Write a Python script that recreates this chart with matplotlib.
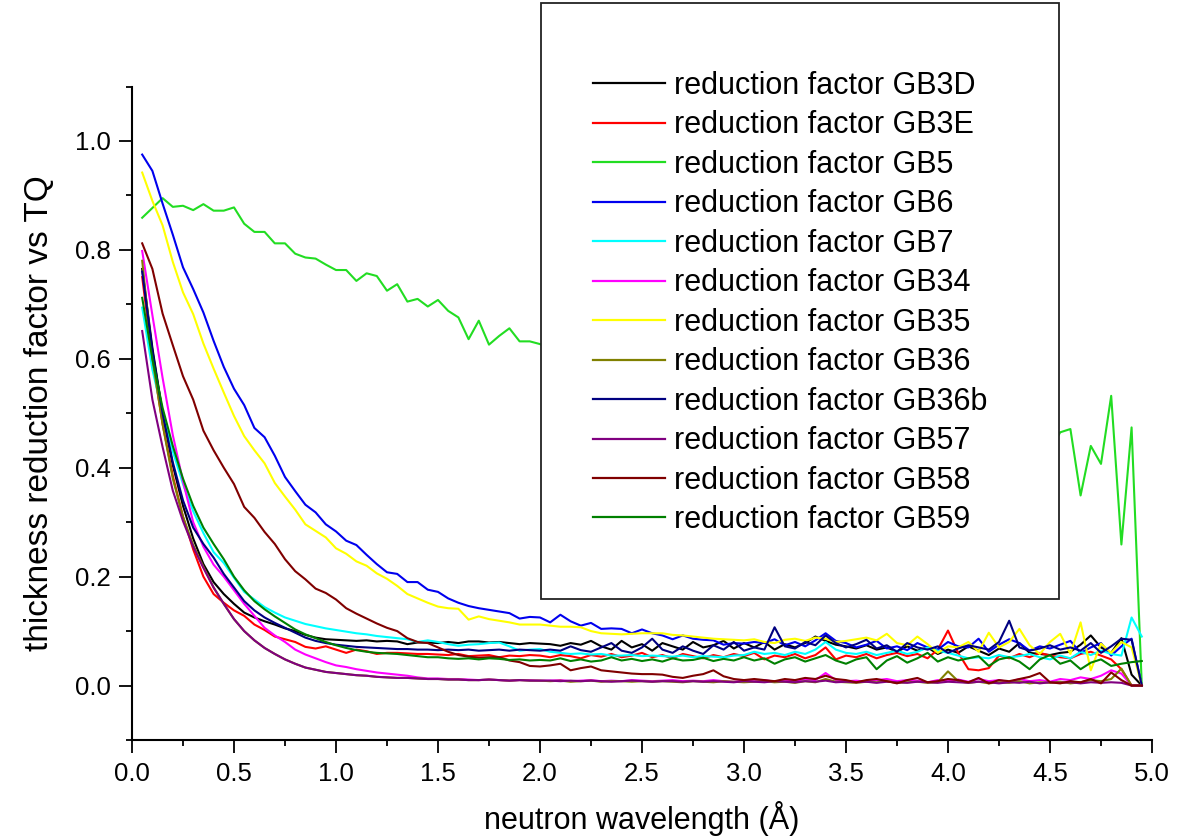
import numpy as np
import matplotlib
matplotlib.use("Agg")
import matplotlib.pyplot as plt
from matplotlib.patches import Rectangle
from matplotlib.ticker import MultipleLocator, FormatStrFormatter

plt.rcParams['font.family'] = ['Liberation Sans', 'DejaVu Sans']

# wavelength grid (Å)
wavelength = [round(0.05 * (i + 1), 2) for i in range(99)]

labels = ["reduction factor GB3D", "reduction factor GB3E", "reduction factor GB5",
          "reduction factor GB6", "reduction factor GB7", "reduction factor GB34",
          "reduction factor GB35", "reduction factor GB36", "reduction factor GB36b",
          "reduction factor GB57", "reduction factor GB58", "reduction factor GB59"]

gb3d = [.765, .62, .50, .405, .33, .27, .223, .19, .168, .150,
        .134, .125, .118, .112, .105, .100, .093, .088, .085, .084,
        .083, .082, .083, .081, .082, .081, .076, .079, .079, .078,
        .080, .078, .081, .081, .079, .080, .078, .076, .078, .077,
        .076, .073, .078, .075, .082, .072, .066, .082, .070, .076,
        .064, .078, .072, .066, .080, .070, .074, .082, .068, .078,
        .070, .080, .066, .076, .070, .078, .090, .082, .075, .072,
        .068, .074, .066, .070, .062, .072, .064, .070, .058, .066,
        .060, .072, .064, .056, .068, .062, .078, .060, .058, .056,
        .060, .062, .075, .092, .070, .060, .087, .020, 0.0]

gb3e = [.75, .60, .48, .385, .31, .25, .20, .168, .152, .138,
        .128, .112, .102, .090, .085, .080, .071, .068, .072, .066,
        .060, .066, .063, .058, .060, .060, .059, .058, .058, .057,
        .056, .058, .054, .055, .056, .052, .055, .054, .056, .055,
        .052, .056, .054, .050, .056, .053, .058, .052, .055, .060,
        .052, .056, .050, .058, .054, .050, .056, .052, .058, .054,
        .060, .048, .055, .052, .058, .050, .056, .070, .048, .055,
        .052, .058, .050, .056, .060, .054, .058, .050, .066, .101,
        .060, .030, .028, .032, .055, .050, .058, .052, .060, .055,
        .052, .050, .058, .062, .055, .048, .030, 0.0, 0.0]

gb5 = [.859, .877, .895, .879, .881, .873, .884, .872, .872, .878,
       .848, .833, .833, .812, .812, .793, .786, .784, .773, .763,
       .763, .743, .757, .752, .725, .737, .705, .710, .696, .708,
       .688, .676, .636, .670, .626, .642, .656, .632, .632, .627,
       .618, .625, .605, .612, .598, .590, .601, .582, .575, .586,
       .568, .560, .572, .552, .545, .556, .538, .530, .541, .522,
       .515, .527, .508, .500, .512, .495, .488, .499, .480, .474,
       .486, .468, .461, .473, .455, .449, .462, .444, .438, .452,
       .435, .446, .428, .440, .422, .437, .418, .432, .415, .431,
       .465, .471, .349, .440, .407, .532, .259, .474, 0.0]

gb6 = [.975, .945, .885, .828, .768, .728, .685, .633, .585, .545,
       .515, .473, .456, .422, .383, .357, .332, .318, .296, .283,
       .266, .258, .240, .223, .208, .205, .190, .190, .176, .172,
       .160, .152, .146, .142, .139, .136, .133, .123, .126, .125,
       .116, .130, .118, .110, .115, .104, .105, .104, .096, .103,
       .096, .092, .085, .092, .086, .084, .083, .075, .078, .077,
       .080, .078, .085, .074, .080, .072, .083, .096, .082, .078,
       .070, .075, .082, .068, .072, .065, .078, .070, .066, .080,
       .072, .070, .086, .062, .075, .085, .078, .064, .072, .068,
       .075, .082, .060, .070, .078, .055, .072, .086, 0.0]

gb7 = [.694, .58, .50, .43, .37, .32, .28, .245, .225, .198,
       .172, .158, .144, .134, .125, .119, .113, .109, .105, .102,
       .099, .096, .094, .091, .089, .087, .085, .080, .083, .080,
       .076, .073, .075, .076, .078, .079, .072, .064, .066, .067,
       .062, .060, .058, .059, .057, .058, .055, .055, .056, .054,
       .055, .054, .053, .055, .052, .054, .053, .052, .055, .056,
       .062, .058, .060, .056, .062, .058, .066, .080, .066, .060,
       .058, .062, .056, .060, .064, .058, .062, .070, .064, .060,
       .055, .050, .052, .050, .056, .052, .054, .058, .052, .048,
       .055, .050, .062, .056, .064, .058, .055, .125, .090]

gb34 = [.798, .68, .565, .46, .375, .30, .255, .222, .20, .175,
        .150, .128, .106, .092, .080, .066, .057, .050, .043, .037,
        .034, .030, .027, .024, .022, .020, .018, .015, .013, .013,
        .012, .012, .011, .010, .011, .010, .009, .010, .010, .009,
        .009, .010, .008, .009, .010, .008, .009, .008, .010, .009,
        .008, .009, .010, .008, .009, .008, .010, .008, .007, .009,
        .008, .010, .007, .009, .008, .012, .010, .023, .010, .008,
        .009, .007, .010, .012, .008, .010, .009, .006, .010, .008,
        .011, .007, .012, .008, .010, .006, .012, .008, .010, .007,
        .012, .010, .015, .012, .018, .028, .022, 0.0, 0.0]

gb35 = [.942, .89, .845, .778, .722, .682, .628, .582, .538, .495,
        .458, .432, .408, .372, .347, .323, .296, .284, .272, .252,
        .242, .228, .220, .206, .196, .183, .168, .160, .152, .145,
        .142, .141, .121, .127, .122, .119, .116, .112, .112, .112,
        .110, .108, .108, .107, .100, .096, .095, .094, .095, .096,
        .096, .096, .093, .092, .090, .088, .086, .085, .084, .083,
        .085, .080, .078, .084, .086, .082, .088, .086, .080, .082,
        .085, .088, .083, .095, .078, .074, .090, .076, .060, .072,
        .070, .080, .062, .097, .070, .080, .104, .074, .058, .080,
        .095, .058, .116, .028, .077, .060, .080, .070, 0.0]

gb36 = [.78, .60, .48, .38, .31, .258, .218, .180, .150, .122,
        .100, .083, .069, .058, .048, .040, .033, .029, .025, .023,
        .021, .019, .018, .016, .015, .014, .014, .013, .012, .012,
        .011, .011, .010, .010, .011, .010, .009, .010, .009, .009,
        .008, .009, .007, .008, .009, .007, .008, .008, .007, .008,
        .007, .008, .007, .006, .008, .007, .006, .008, .007, .006,
        .007, .008, .006, .007, .005, .008, .006, .012, .007, .006,
        .005, .007, .006, .008, .005, .006, .007, .005, .006, .026,
        .008, .005, .007, .004, .006, .005, .008, .004, .006, .005,
        .007, .004, .006, .010, .008, .012, .031, 0.0, 0.0]

gb36b = [.76, .615, .50, .41, .34, .29, .26, .235, .205, .18,
         .155, .138, .125, .115, .106, .097, .088, .082, .078, .075,
         .073, .071, .070, .069, .068, .067, .067, .066, .066, .065,
         .066, .065, .066, .064, .065, .066, .064, .066, .065, .064,
         .066, .064, .072, .065, .062, .070, .078, .064, .060, .070,
         .086, .066, .060, .072, .064, .058, .074, .066, .080, .064,
         .070, .066, .107, .072, .068, .080, .074, .092, .078, .070,
         .076, .084, .068, .074, .062, .078, .070, .066, .072, .060,
         .068, .074, .070, .066, .080, .119, .070, .064, .068, .074,
         .066, .070, .064, .078, .060, .072, .086, .084, 0.0]

gb57 = [.651, .525, .438, .358, .302, .255, .216, .180, .150, .122,
        .100, .083, .069, .058, .048, .040, .033, .029, .025, .023,
        .021, .019, .018, .016, .015, .014, .014, .013, .012, .012,
        .011, .011, .010, .010, .011, .010, .009, .010, .009, .009,
        .009, .008, .009, .008, .009, .008, .007, .008, .009, .008,
        .007, .008, .008, .007, .008, .007, .008, .007, .006, .008,
        .007, .006, .008, .007, .006, .008, .007, .009, .006, .007,
        .006, .007, .005, .007, .006, .005, .007, .006, .005, .007,
        .006, .005, .007, .006, .004, .006, .005, .007, .004, .006,
        .005, .006, .004, .006, .005, .006, .005, 0.0, 0.0]

gb58 = [.812, .765, .683, .625, .568, .525, .468, .432, .400, .370,
        .328, .308, .282, .260, .232, .210, .195, .178, .170, .158,
        .142, .132, .123, .114, .106, .100, .087, .080, .078, .070,
        .062, .056, .053, .051, .052, .052, .046, .043, .036, .035,
        .037, .040, .028, .032, .035, .028, .026, .024, .022, .021,
        .021, .020, .016, .014, .018, .021, .028, .017, .012, .010,
        .012, .010, .008, .012, .010, .014, .012, .018, .012, .010,
        .006, .010, .012, .008, .004, .010, .014, .006, .008, .012,
        .010, .006, .014, .004, .010, .008, .012, .016, .023, .006,
        .004, .008, .006, .012, .004, .024, .010, 0.0, 0.0]

gb59 = [.712, .60, .51, .44, .38, .33, .29, .26, .232, .200,
        .175, .155, .140, .127, .115, .103, .094, .087, .080, .074,
        .069, .065, .062, .060, .059, .058, .056, .054, .052, .052,
        .050, .049, .050, .048, .050, .049, .047, .048, .046, .047,
        .046, .050, .045, .048, .044, .046, .052, .046, .049, .045,
        .048, .044, .050, .046, .047, .051, .045, .049, .046, .052,
        .046, .050, .040, .048, .052, .044, .050, .056, .046, .040,
        .048, .052, .030, .046, .054, .042, .050, .060, .044, .052,
        .046, .050, .054, .036, .048, .052, .044, .030, .048, .056,
        .040, .046, .030, .042, .048, .036, .040, .043, .045]

series = [gb3d, gb3e, gb5, gb6, gb7, gb34, gb35, gb36, gb36b, gb57, gb58, gb59]
colors = ['#000000', '#FF0000', '#22DD22', '#0000EE', '#00FFFF', '#FF00FF',
          '#FFFF00', '#808000', '#000080', '#800080', '#800000', '#008000']

fig = plt.figure(figsize=(11.78, 8.36), dpi=100)
ax = fig.add_axes([0.11205, 0.11483, 0.86587, 0.7817])

handles = []
for vals, c, lab in zip(series, colors, labels):
    h, = ax.plot(wavelength, vals, color=c, lw=1.5, label=lab)
    handles.append(h)

ax.set_xlim(0, 5.0)
ax.set_ylim(-0.1, 1.1)
ax.set_xticks(np.arange(0, 5.01, 0.5))
ax.xaxis.set_minor_locator(MultipleLocator(0.25))
ax.set_yticks([0.0, 0.2, 0.4, 0.6, 0.8, 1.0])
ax.yaxis.set_minor_locator(MultipleLocator(0.1))
ax.xaxis.set_major_formatter(FormatStrFormatter('%.1f'))
ax.yaxis.set_major_formatter(FormatStrFormatter('%.1f'))

for s in ['top', 'right']:
    ax.spines[s].set_visible(False)
for s in ['left', 'bottom']:
    ax.spines[s].set_linewidth(1.5)

ax.tick_params(axis='both', which='major', direction='out', length=9.5, width=1.3,
               labelsize=18.5, pad=6)
ax.tick_params(axis='both', which='minor', direction='out', length=4.5, width=1.3)

ax.set_xlabel("neutron wavelength (Å)", fontsize=22, labelpad=11)
ax.set_ylabel("thickness reduction factor vs TQ", fontsize=24, labelpad=14)

# legend box drawn over the plot
rect = Rectangle((0.4593, 0.2835), 0.4397, 0.7129, transform=fig.transFigure,
                 facecolor='white', edgecolor='#222222', lw=1.3, zorder=5)
fig.add_artist(rect)

leg = fig.legend(handles=handles, loc='upper left', bbox_to_anchor=(0.5034, 0.9151),
                 frameon=False, fontsize=22, handlelength=2.35, handletextpad=0.31,
                 labelspacing=0.31, borderpad=0, borderaxespad=0)
leg.set_zorder(6)
for line in leg.get_lines():
    line.set_linewidth(1.6)

fig.savefig("out.png", dpi=100)
